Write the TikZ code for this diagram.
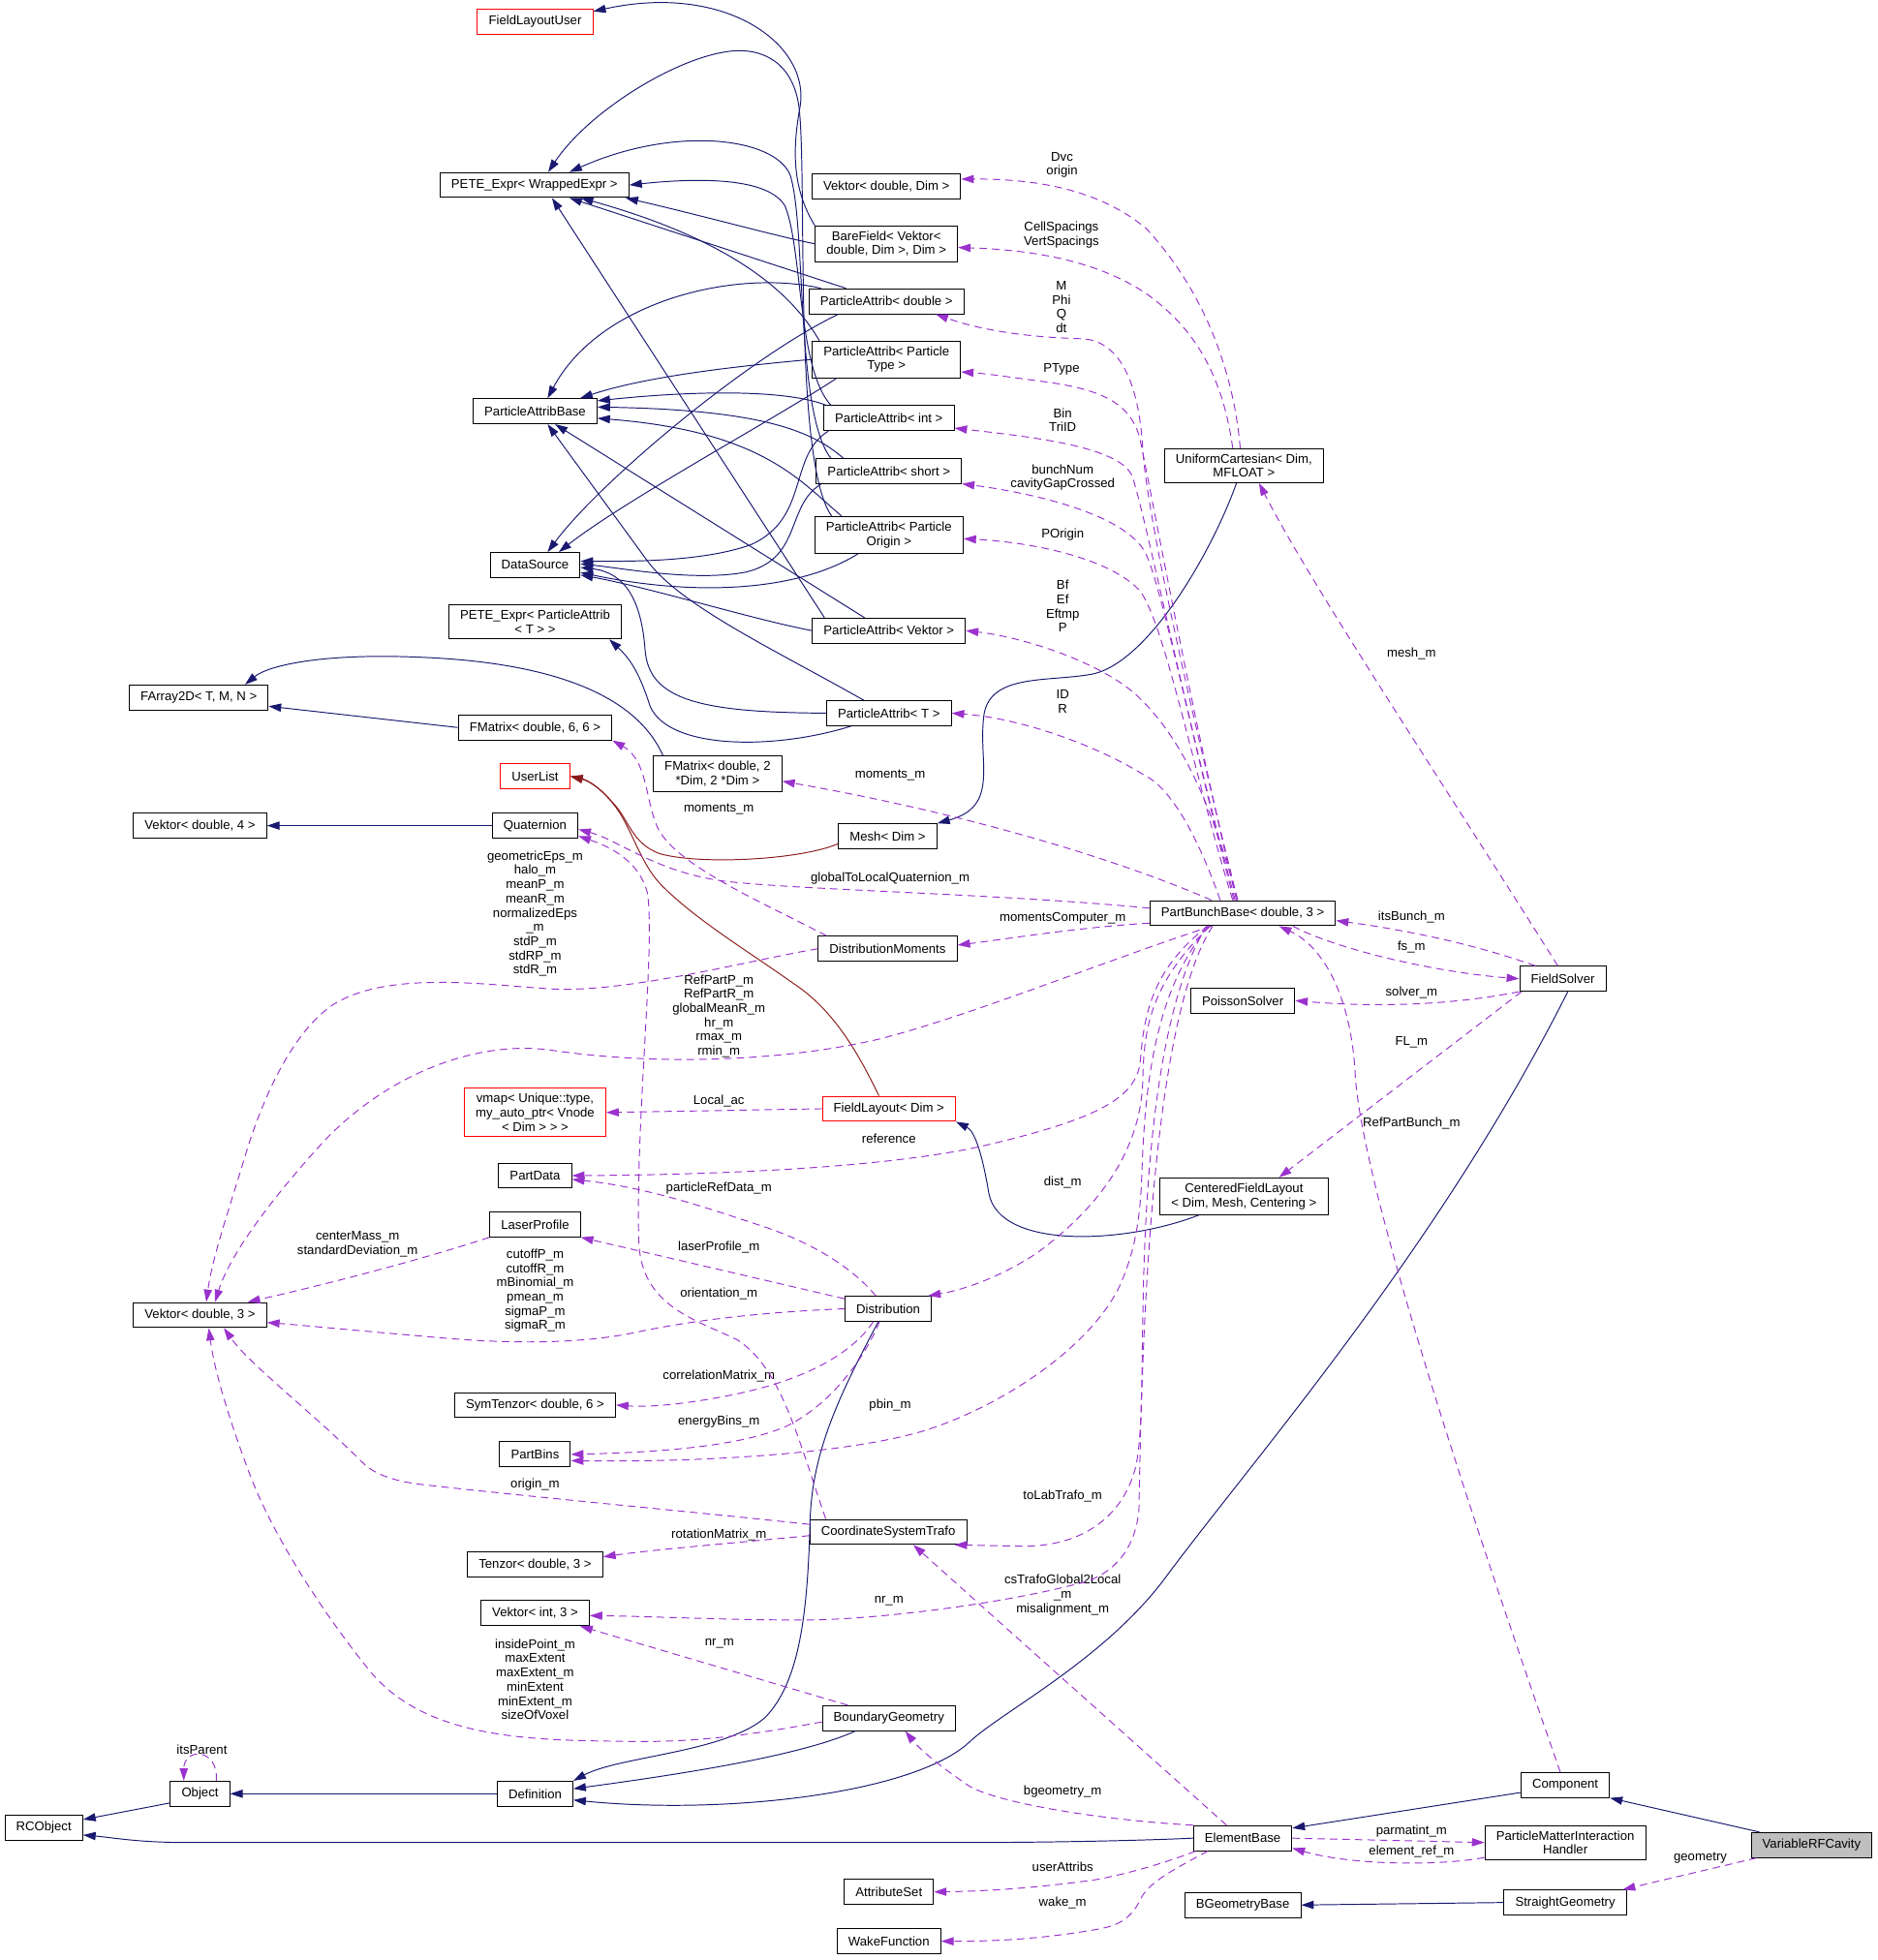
\documentclass[tikz,border=0pt]{standalone}
\usepackage{fontspec}
\setmainfont{Liberation Sans}
\usetikzlibrary{arrows.meta}
\definecolor{inhblue}{HTML}{191970}
\definecolor{usepurple}{HTML}{9A32CD}
\definecolor{tmplred}{HTML}{8B1A1A}
\definecolor{curgray}{HTML}{BFBFBF}
\tikzset{
  cls/.style={draw=black, fill=white, line width=0.75pt, inner xsep=9pt, inner ysep=4.2pt, minimum height=20pt, align=center, font=\fontsize{10.2}{11.4}\selectfont},
  redcls/.style={cls, draw=red},
  curcls/.style={cls, fill=curgray},
  lbl/.style={inner sep=0pt, align=center, font=\fontsize{10.2}{11.4}\selectfont},
  inh/.style={draw=inhblue, line width=0.75pt, -{Triangle[length=10pt,width=6.5pt]}},
  usage/.style={draw=usepurple, line width=0.75pt, dash pattern=on 6pt off 4pt, -{Triangle[length=10pt,width=6.5pt]}},
  tmpl/.style={draw=tmplred, line width=0.75pt, -{Triangle[length=10pt,width=6.5pt]}},
}
\begin{document}
\begin{tikzpicture}[x=1pt, y=-1pt]
    \useasboundingbox (0,0) rectangle (1502,1568);
    \node[redcls] (FieldLayoutUser) at (428,17.5) {FieldLayoutUser};
    \node[cls] (PeteWrapped) at (427.5,148) {PETE\_Expr< WrappedExpr >};
    \node[cls] (VekDim) at (709,149.3) {Vektor< double, Dim >};
    \node[cls] (BareField) at (709,195) {BareField< Vektor<\\double, Dim >, Dim >};
    \node[cls] (PADouble) at (709,241) {ParticleAttrib< double >};
    \node[cls] (PAPType) at (709,287.5) {ParticleAttrib< Particle\\Type >};
    \node[cls] (PABase) at (428,329) {ParticleAttribBase};
    \node[cls] (PAInt) at (711,334.5) {ParticleAttrib< int >};
    \node[cls] (PAShort) at (711,377) {ParticleAttrib< short >};
    \node[cls] (PAPOrigin) at (711,428) {ParticleAttrib< Particle\\Origin >};
    \node[cls] (DataSource) at (428,452) {DataSource};
    \node[cls] (PetePAT) at (428,497.5) {PETE\_Expr< ParticleAttrib\\< T > >};
    \node[cls] (PAVektor) at (711,504.5) {ParticleAttrib< Vektor >};
    \node[cls] (FArray) at (159,558) {FArray2D< T, M, N >};
    \node[cls] (PAT) at (711,570.5) {ParticleAttrib< T >};
    \node[cls] (FMat66) at (428,582) {FMatrix< double, 6, 6 >};
    \node[cls] (FMat2Dim) at (574,619) {FMatrix< double, 2\\*Dim, 2 *Dim >};
    \node[redcls] (UserList) at (428,621) {UserList};
    \node[cls] (Vek4) at (160,660.5) {Vektor< double, 4 >};
    \node[cls] (Quaternion) at (428,660.5) {Quaternion};
    \node[cls] (Mesh) at (710,669) {Mesh< Dim >};
    \node[cls] (UniCart) at (995,372.5) {UniformCartesian< Dim,\\MFLOAT >};
    \node[cls] (PBB) at (994,730.5) {PartBunchBase< double, 3 >};
    \node[cls] (DistMom) at (710,759) {DistributionMoments};
    \node[cls] (FieldSolver) at (1250,783) {FieldSolver};
    \node[cls] (Poisson) at (994,800.5) {PoissonSolver};
    \node[redcls] (Vmap) at (428,890) {vmap< Unique::type,\\my\_auto\_ptr< Vnode\\< Dim > > >};
    \node[redcls] (FieldLayout) at (711,887) {FieldLayout< Dim >};
    \node[cls] (PartData) at (428,940.5) {PartData};
    \node[cls] (CFL) at (995,957) {CenteredFieldLayout\\< Dim, Mesh, Centering >};
    \node[cls] (LaserProfile) at (428,979.5) {LaserProfile};
    \node[cls] (Vek3) at (160,1052) {Vektor< double, 3 >};
    \node[cls] (Distribution) at (710.5,1047) {Distribution};
    \node[cls] (SymTenzor) at (428,1124) {SymTenzor< double, 6 >};
    \node[cls] (PartBins) at (428,1163.5) {PartBins};
    \node[cls] (CST) at (710.5,1225.5) {CoordinateSystemTrafo};
    \node[cls] (Tenzor) at (428,1251.5) {Tenzor< double, 3 >};
    \node[cls] (VekInt3) at (428,1290.5) {Vektor< int, 3 >};
    \node[cls] (BoundaryGeometry) at (711,1374.5) {BoundaryGeometry};
    \node[cls] (Object) at (160,1435) {Object};
    \node[cls] (Definition) at (428,1435) {Definition};
    \node[cls] (RCObject) at (35,1462) {RCObject};
    \node[cls] (Component) at (1252,1428) {Component};
    \node[cls] (ElementBase) at (994,1470.5) {ElementBase};
    \node[cls] (PMIH) at (1252,1474) {ParticleMatterInteraction\\Handler};
    \node[curcls] (VarRF) at (1449,1476) {VariableRFCavity};
    \node[cls] (AttributeSet) at (711,1513.5) {AttributeSet};
    \node[cls] (BGeometryBase) at (994,1524) {BGeometryBase};
    \node[cls] (StraightGeometry) at (1252,1522) {StraightGeometry};
    \node[cls] (WakeFunction) at (711,1553) {WakeFunction};

    \node[lbl] (lDvc) at (849.5,132) {Dvc\\origin};
    \node[lbl] (lCell) at (849,188) {CellSpacings\\VertSpacings};
    \node[lbl] (lMPhi) at (849,245.5) {M\\Phi\\Q\\dt};
    \node[lbl] (lPType) at (849,295.5) {PType};
    \node[lbl] (lBin) at (850,336) {Bin\\TriID};
    \node[lbl] (lBunch) at (850,382) {bunchNum\\cavityGapCrossed};
    \node[lbl] (lPOrigin) at (850,428) {POrigin};
    \node[lbl] (lBf) at (850,485) {Bf\\Ef\\Eftmp\\P};
    \node[lbl] (lMesh) at (1129,523) {mesh\_m};
    \node[lbl] (lID) at (850,561.5) {ID\\R};
    \node[lbl] (lMomA) at (712,620.5) {moments\_m};
    \node[lbl] (lMomB) at (575,647.5) {moments\_m};
    \node[lbl] (lGeo) at (428,731) {geometricEps\_m\\halo\_m\\meanP\_m\\meanR\_m\\normalizedEps\\\_m\\stdP\_m\\stdRP\_m\\stdR\_m};
    \node[lbl] (lGlob) at (712,703) {globalToLocalQuaternion\_m};
    \node[lbl] (lItsBunch) at (1129,734) {itsBunch\_m};
    \node[lbl] (lMomComp) at (850,735) {momentsComputer\_m};
    \node[lbl] (lFs) at (1129,758) {fs\_m};
    \node[lbl] (lRefPart) at (575,813) {RefPartP\_m\\RefPartR\_m\\globalMeanR\_m\\hr\_m\\rmax\_m\\rmin\_m};
    \node[lbl] (lSolver) at (1129,794) {solver\_m};
    \node[lbl] (lFL) at (1129,834) {FL\_m};
    \node[lbl] (lLocal) at (575,881) {Local\_ac};
    \node[lbl] (lRefBunch) at (1129,899) {RefPartBunch\_m};
    \node[lbl] (lRef) at (711,911) {reference};
    \node[lbl] (lDist) at (850,946) {dist\_m};
    \node[lbl] (lPartRef) at (575,951) {particleRefData\_m};
    \node[lbl] (lCenter) at (286,995.5) {centerMass\_m\\standardDeviation\_m};
    \node[lbl] (lLaser) at (575,997.5) {laserProfile\_m};
    \node[lbl] (lCutoff) at (428,1032.5) {cutoffP\_m\\cutoffR\_m\\mBinomial\_m\\pmean\_m\\sigmaP\_m\\sigmaR\_m};
    \node[lbl] (lOrient) at (575,1035) {orientation\_m};
    \node[lbl] (lCorr) at (575,1101) {correlationMatrix\_m};
    \node[lbl] (lPbin) at (712,1124) {pbin\_m};
    \node[lbl] (lEnergy) at (575,1137) {energyBins\_m};
    \node[lbl] (lOrigin) at (428,1188) {origin\_m};
    \node[lbl] (lToLab) at (850,1197) {toLabTrafo\_m};
    \node[lbl] (lRot) at (575,1228) {rotationMatrix\_m};
    \node[lbl] (lCsTrafo) at (850,1276) {csTrafoGlobal2Local\\\_m\\misalignment\_m};
    \node[lbl] (lNrA) at (711,1281) {nr\_m};
    \node[lbl] (lNrB) at (575.5,1315) {nr\_m};
    \node[lbl] (lInside) at (428,1343.5) {insidePoint\_m\\maxExtent\\maxExtent\_m\\minExtent\\minExtent\_m\\sizeOfVoxel};
    \node[lbl] (lParent) at (161.5,1400) {itsParent};
    \node[lbl] (lBgeo) at (850,1433) {bgeometry\_m};
    \node[lbl] (lParmat) at (1129,1465) {parmatint\_m};
    \node[lbl] (lElemRef) at (1129,1481.5) {element\_ref\_m};
    \node[lbl] (lGeom) at (1360,1486) {geometry};
    \node[lbl] (lUser) at (850,1493.5) {userAttribs};
    \node[lbl] (lWake) at (850,1522) {wake\_m};

    \draw[inh] (BareField.north west) .. controls (633,150) and (634,118) .. (640,85) .. controls (648,35) and (580,-14) .. ([yshift=-2pt]FieldLayoutUser.north east);
    \draw[inh] ([xshift=10pt]PAVektor.north west) -- ([xshift=14pt]PeteWrapped.south);
    \draw[inh] ([xshift=30pt]PADouble.north west) -- ([xshift=28pt]PeteWrapped.south);
    \draw[inh] ([xshift=6pt]PAPType.north west) .. controls (625,220) and (560,185) .. ([xshift=37pt]PeteWrapped.south);
    \draw[inh] ([xshift=6pt]PAInt.north west) .. controls (638,295) and (642,200) .. (628,165) .. controls (615,142) and (560,142) .. (PeteWrapped.east);
    \draw[inh] ([xshift=12pt]PAShort.north west) .. controls (636,330) and (645,180) .. (632,140) .. controls (620,110) and (540,100) .. ([xshift=28pt]PeteWrapped.north);
    \draw[inh] ([xshift=14pt]PAPOrigin.north west) .. controls (634,370) and (646,140) .. (639,85) .. controls (634,50) and (610,38) .. (584,41) .. controls (540,46) and (470,90) .. ([xshift=11pt]PeteWrapped.north);
    \draw[inh] (BareField.west) .. controls (625,190) and (560,172) .. ([xshift=-3pt]PeteWrapped.south east);

    \draw[inh] ([xshift=10pt]PADouble.north west) .. controls (590,215) and (480,240) .. ([xshift=10pt]PABase.north);
    \draw[inh] (PAPType.west) .. controls (600,292) and (520,300) .. ([xshift=36pt]PABase.north);
    \draw[inh] ([xshift=2pt]PAInt.north west) .. controls (630,312) and (560,312) .. ([yshift=-2pt]PABase.north east);
    \draw[inh] ([xshift=22pt]PAShort.north west) .. controls (650,345) and (610,328) .. ([yshift=-7pt]PABase.north east);
    \draw[inh] ([xshift=22pt]PAPOrigin.north west) .. controls (640,385) and (610,345) .. ([yshift=-16pt]PABase.north east);
    \draw[inh] ([xshift=42pt]PAVektor.north west) -- ([xshift=16pt]PABase.south);
    \draw[inh] ([xshift=30pt]PAT.north west) .. controls (620,520) and (545,485) .. (518,449) -- ([xshift=10pt]PABase.south);

    \draw[inh] ([xshift=24pt]PADouble.south west) .. controls (600,285) and (480,385) .. ([xshift=10pt]DataSource.north);
    \draw[inh] ([xshift=20pt]PAPType.south west) .. controls (620,335) and (500,400) .. ([xshift=19pt]DataSource.north);
    \draw[inh] ([xshift=4pt]PAInt.south west) .. controls (630,365) and (648,415) .. (600,436) .. controls (560,450) and (500,449) .. ([yshift=3pt]DataSource.east);
    \draw[inh] ([xshift=4pt]PAShort.south west) .. controls (628,405) and (642,448) .. (595,458) .. controls (555,465) and (500,455) .. ([yshift=1pt]DataSource.east);
    \draw[inh] ([xshift=35pt]PAPOrigin.south west) .. controls (640,472) and (560,478) .. ([yshift=-6pt]DataSource.east);
    \draw[inh] (PAVektor.west) .. controls (600,495) and (520,470) .. ([yshift=-8pt]DataSource.east);
    \draw[inh] (PAT.west) .. controls (560,570) and (519,560) .. (516,520) .. controls (513,480) and (500,458) .. ([yshift=-2pt]DataSource.east);
    \draw[inh] ([xshift=20pt]PAT.south west) .. controls (620,600) and (535,600) .. (520,565) .. controls (512,540) and (505,528) .. ([xshift=-10pt]PetePAT.south east);

    \draw[inh] (FMat66.west) -- ([yshift=-7pt]FArray.east);
    \draw[inh] ([xshift=8pt]FMat2Dim.north west) .. controls (515,570) and (470,532) .. (341,526) .. controls (260,522) and (215,532) .. ([xshift=37pt]FArray.north);
    \draw[inh] (Quaternion.west) -- (Vek4.east);
    \draw[inh] ([xshift=-6pt]UniCart.south) .. controls (970,440) and (920,528) .. (875,539) .. controls (840,546) and (792,538) .. (787,572) .. controls (782,610) and (800,645) .. (Mesh.north east);
    \draw[inh] ([xshift=-36pt]CFL.south) .. controls (900,995) and (800,1000) .. (791,955) .. controls (786,925) and (780,905) .. (FieldLayout.south east);
    \draw[inh] ([xshift=-8pt]Distribution.south) .. controls (672,1115) and (650,1160) .. (648,1215) .. controls (646,1290) and (640,1345) .. (612,1374) .. controls (580,1402) and (495,1405) .. (Definition.north east);
    \draw[inh] ([xshift=-27pt]BoundaryGeometry.south) .. controls (640,1405) and (540,1420) .. ([yshift=4pt]Definition.east);
    \draw[inh] ([xshift=4pt]FieldSolver.south) .. controls (1150,1000) and (1000,1170) .. (930,1265) .. controls (880,1330) and (800,1370) .. (775,1394) .. controls (730,1435) and (580,1452) .. ([yshift=-5pt]Definition.east);
    \draw[inh] (Definition.west) -- (Object.east);
    \draw[inh] ([yshift=3pt]Object.south west) -- ([yshift=-4pt]RCObject.north east);
    \draw[inh] (ElementBase.west) .. controls (900,1473) and (820,1474) .. (774,1474) -- (150,1474) .. controls (110,1474) and (90,1470) .. ([yshift=-6pt]RCObject.east);
    \draw[inh] ([yshift=-6pt]Component.west) -- ([yshift=8pt]ElementBase.east);
    \draw[inh] ([xshift=7pt]VarRF.north west) -- (Component.south east);
    \draw[inh] (StraightGeometry.west) -- (BGeometryBase.east);

    \draw[tmpl] ([yshift=-6pt]Mesh.west) .. controls (640,688) and (560,692) .. (528,683) .. controls (505,675) and (503,655) .. (490,642) .. controls (480,630) and (470,624) .. (UserList.east);
    \draw[tmpl] ([xshift=-8pt]FieldLayout.north) .. controls (690,850) and (670,810) .. (635,787) .. controls (600,762) and (555,735) .. (528,707) .. controls (512,690) and (505,662) .. (492,645) .. controls (482,632) and (472,625) .. (UserList.east);

    \draw[usage] ([xshift=-3pt]UniCart.north) .. controls (987,300) and (965,235) .. (917,183) .. controls (880,152) and (830,143) .. ([yshift=6pt]VekDim.east);
    \draw[usage] ([xshift=-9pt]UniCart.north) .. controls (978,300) and (955,262) .. (917,235) .. controls (880,210) and (830,200) .. ([yshift=-3pt]BareField.east);
    \draw[usage] ([xshift=-4pt]PBB.north) .. controls (960,600) and (918,420) .. (914,359) .. controls (911,305) and (895,272) .. (865,271) .. controls (830,270) and (790,266) .. ([xshift=-23pt]PADouble.south east);
    \draw[usage] ([xshift=-5pt]PBB.north) .. controls (955,580) and (922,400) .. (912,352) .. controls (905,322) and (880,312) .. (840,306) .. controls (810,302) and (790,299) .. ([yshift=-10pt]PAPType.east);
    \draw[usage] ([xshift=-6pt]PBB.north) .. controls (950,580) and (918,420) .. (906,382) .. controls (898,358) and (830,350) .. ([yshift=-8pt]PAInt.east);
    \draw[usage] ([xshift=-7pt]PBB.north) .. controls (955,600) and (930,470) .. (916,442) .. controls (900,412) and (830,395) .. ([yshift=-10pt]PAShort.east);
    \draw[usage] ([xshift=-8pt]PBB.north) .. controls (955,620) and (932,500) .. (912,473) .. controls (890,448) and (830,434) .. ([yshift=-3pt]PAPOrigin.east);
    \draw[usage] ([xshift=-4pt]PBB.north) .. controls (968,640) and (945,590) .. (909,556) .. controls (880,530) and (820,510) .. (PAVektor.east);
    \draw[usage] ([xshift=-18pt]PBB.north) .. controls (962,680) and (940,632) .. (915,620) .. controls (880,598) and (820,575) .. (PAT.east);
    \draw[usage] ([xshift=-25pt]PBB.north) .. controls (900,690) and (780,652) .. ([yshift=-6pt]FMat2Dim.east);
    \draw[usage] ([yshift=4pt]PBB.west) .. controls (800,715) and (640,712) .. (580,705) .. controls (525,698) and (495,672) .. ([yshift=-3pt]Quaternion.east);
    \draw[usage] ([yshift=-8pt]PBB.west) .. controls (860,742) and (800,752) .. ([yshift=3pt]DistMom.east);
    \draw[usage] ([xshift=-25pt]PBB.south) .. controls (880,770) and (770,815) .. (700,832) .. controls (620,850) and (520,852) .. (440,840) .. controls (380,832) and (310,860) .. (260,912) .. controls (225,950) and (185,1000) .. ([xshift=12pt]Vek3.north);
    \draw[usage] (DistMom.west) .. controls (600,768) and (500,795) .. (439,791) .. controls (390,788) and (310,776) .. (266,804) .. controls (228,830) and (205,895) .. (196,925) .. controls (184,965) and (170,1005) .. ([xshift=5pt]Vek3.north);
    \draw[usage] ([xshift=7pt]DistMom.north west) .. controls (610,722) and (540,692) .. (526,662) .. controls (516,640) and (518,608) .. (FMat66.south east);
    \draw[usage] (FieldLayout.west) -- (Vmap.east);
    \draw[usage] ([xshift=-28pt]PBB.south) .. controls (922,775) and (915,810) .. (912,850) .. controls (908,878) and (880,895) .. (785,917) .. controls (700,936) and (550,940) .. (PartData.east);
    \draw[usage] ([xshift=-26pt]PBB.south) .. controls (916,790) and (915,830) .. (914,866) .. controls (912,920) and (880,965) .. (830,1002) .. controls (800,1022) and (770,1032) .. ([xshift=-3pt]Distribution.north east);
    \draw[usage] ([xshift=-27pt]PBB.south) .. controls (916,800) and (915,900) .. (913,947) .. controls (911,990) and (903,1012) .. (895,1030) .. controls (870,1080) and (800,1125) .. (741,1144) .. controls (680,1163) and (560,1170) .. ([yshift=-5pt]PartBins.east);
    \draw[usage] ([xshift=-29pt]PBB.south) .. controls (917,820) and (915,1000) .. (914,1060) .. controls (913,1120) and (913,1155) .. (908,1175) .. controls (898,1212) and (868,1236) .. (821,1237) -- ([xshift=-10pt]CST.south east);
    \draw[usage] ([xshift=-24pt]PBB.south) .. controls (918,820) and (913,1100) .. (911,1208) .. controls (908,1240) and (890,1262) .. (858,1268) .. controls (800,1283) and (700,1296) .. (642,1296) .. controls (580,1296) and (520,1293) .. ([yshift=-2pt]VekInt3.east);
    \draw[usage] ([xshift=-13pt]ElementBase.north) -- ([xshift=20pt]CST.south);
    \draw[usage] (ElementBase.north west) .. controls (880,1456) and (795,1442) .. (774,1428) .. controls (755,1415) and (738,1402) .. ([xshift=13pt]BoundaryGeometry.south);
    \draw[usage] ([xshift=2pt]ElementBase.south west) .. controls (920,1495) and (880,1504) .. (867,1505) .. controls (830,1510) and (790,1513) .. (AttributeSet.east);
    \draw[usage] ([xshift=-28pt]ElementBase.south) .. controls (940,1495) and (920,1505) .. (913,1518) .. controls (905,1535) and (895,1540) .. (880,1543) .. controls (830,1552) and (790,1553) .. (WakeFunction.east);
    \draw[usage] (ElementBase.east) -- (PMIH.west);
    \draw[usage] ([yshift=-12pt]PMIH.west) .. controls (1150,1493) and (1080,1492) .. ([yshift=-8pt]ElementBase.east);
    \draw[usage] ([xshift=-44pt]VarRF.south) -- ([xshift=46pt]StraightGeometry.north);
    \draw[usage] ([xshift=-4pt]FieldSolver.north) .. controls (1150,620) and (1050,470) .. ([xshift=12pt]UniCart.south);
    \draw[usage] ([xshift=-22pt]FieldSolver.north) .. controls (1170,752) and (1110,742) .. ([yshift=-6pt]PBB.east);
    \draw[usage] ([xshift=40pt]PBB.south) .. controls (1070,760) and (1150,778) .. (FieldSolver.west);
    \draw[usage] (FieldSolver.south west) .. controls (1150,806) and (1090,805) .. (Poisson.east);
    \draw[usage] ([xshift=-33pt]FieldSolver.south) -- ([xshift=28pt]CFL.north);
    \draw[usage] ([xshift=-4pt]Component.north) .. controls (1200,1280) and (1090,960) .. (1084,860) .. controls (1081,800) and (1060,758) .. ([xshift=29pt]PBB.south);
    \draw[usage] ([yshift=6pt]CST.west) .. controls (560,1210) and (420,1197) .. (341,1188) .. controls (312,1185) and (298,1178) .. (290,1170) .. controls (250,1130) and (200,1092) .. ([xshift=19pt]Vek3.south);
    \draw[usage] ([yshift=-3pt]BoundaryGeometry.west) .. controls (580,1392) and (540,1394) .. (494,1393) .. controls (420,1392) and (340,1390) .. (296,1337) .. controls (250,1280) and (215,1220) .. (200,1180) .. controls (185,1140) and (172,1100) .. ([xshift=7pt]Vek3.south);
    \draw[usage] (LaserProfile.south west) .. controls (330,1010) and (250,1030) .. ([xshift=38pt]Vek3.north);
    \draw[usage] (Distribution.west) .. controls (600,1050) and (545,1058) .. (508,1066) .. controls (460,1076) and (400,1075) .. (339,1069) .. controls (280,1064) and (240,1060) .. ([yshift=-6pt]Vek3.east);
    \draw[usage] ([yshift=8pt]Distribution.west) -- (LaserProfile.south east);
    \draw[usage] ([xshift=-10pt]Distribution.north) .. controls (680,1012) and (645,992) .. (607,980) .. controls (570,968) and (520,950) .. ([yshift=-3pt]PartData.east);
    \draw[usage] ([xshift=-50pt]CST.north) .. controls (638,1150) and (625,1095) .. (590,1072) .. controls (555,1055) and (514,1045) .. (511,995) .. controls (508,900) and (524,760) .. (518,715) .. controls (512,690) and (490,678) .. ([yshift=2pt]Quaternion.south east);
    \draw[usage] ([xshift=-12pt]Distribution.south) .. controls (680,1085) and (640,1105) .. (585,1116) .. controls (550,1123) and (520,1126) .. (SymTenzor.east);
    \draw[usage] ([xshift=-7pt]Distribution.south) .. controls (690,1090) and (662,1125) .. (629,1141) .. controls (590,1158) and (520,1162) .. (PartBins.east);
    \draw[usage] ([yshift=-3pt]CST.west) .. controls (580,1235) and (520,1240) .. ([yshift=6pt]Tenzor.east);
    \draw[usage] ([xshift=-33pt]BoundaryGeometry.north) -- ([xshift=36pt]VekInt3.south);
    \draw[usage] ([xshift=13pt]Object.north) .. controls (175,1398) and (147,1398) .. ([xshift=-13pt]Object.north);
\end{tikzpicture}
\end{document}
